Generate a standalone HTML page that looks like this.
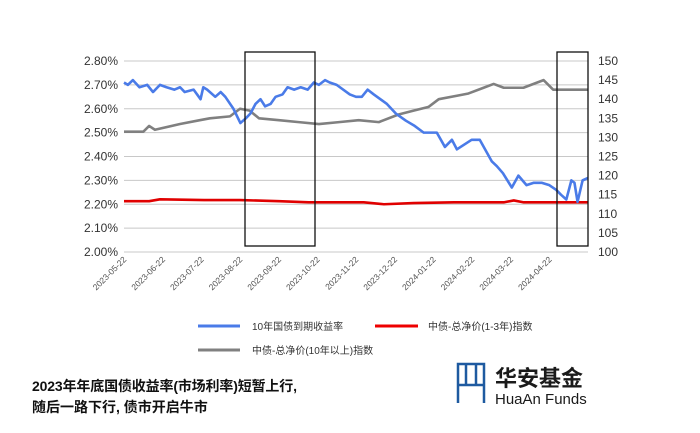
<!DOCTYPE html>
<html><head><meta charset="utf-8"><style>
body{margin:0;background:#fff;width:700px;height:433px;overflow:hidden;font-family:"Liberation Sans","Noto Sans CJK SC",sans-serif}
svg{position:absolute;left:0;top:0}
</style></head><body>
<svg width="700" height="433" xmlns="http://www.w3.org/2000/svg">
<g id="grid"></g>
<g id="yl" font-size="12" fill="#333" text-anchor="end"></g>
<g id="yr" font-size="12" fill="#333"></g>
<g id="xl" font-size="8.5" fill="#555"></g>
<g id="series"></g>
<rect x="245" y="52" width="70" height="194" fill="none" stroke="#111" stroke-width="1.3"/>
<rect x="557" y="52" width="31" height="194" fill="none" stroke="#111" stroke-width="1.3"/>
<g font-size="10" fill="#333">
<line x1="198" y1="326" x2="240" y2="326" stroke="#4a7be8" stroke-width="3"/>
<text x="252" y="330">10年国债到期收益率</text>
<line x1="375" y1="326" x2="418" y2="326" stroke="#e00" stroke-width="3"/>
<text x="428" y="330">中债-总净价(1-3年)指数</text>
<line x1="198" y1="350" x2="240" y2="350" stroke="#808080" stroke-width="3"/>
<text x="252" y="354">中债-总净价(10年以上)指数</text>
</g>
<g font-size="14" font-weight="bold" fill="#111">
<text x="32" y="391" textLength="265">2023年年底国债收益率(市场利率)短暂上行,</text>
<text x="32" y="412">随后一路下行, 债市开启牛市</text>
</g>
<g>
<g fill="none" stroke="#1e5aa0" stroke-width="2.5">
<path d="M458 403 V364 H484 V403 M458 385 H484 M466 364 V385 M476 364 V385"/>
</g>
<text x="495" y="386" font-size="22" font-weight="bold" fill="#1a1a1a">华安基金</text>
<text x="495" y="404" font-size="15" fill="#1a1a1a">HuaAn Funds</text>
</g>
</svg>
<script>
const xTicks=["2023-05-22","2023-06-22","2023-07-22","2023-08-22","2023-09-22","2023-10-22","2023-11-22","2023-12-22","2024-01-22","2024-02-22","2024-03-22","2024-04-22"];
const leftTicks=[2.0,2.1,2.2,2.3,2.4,2.5,2.6,2.7,2.8];
const rightTicks=[100,105,110,115,120,125,130,135,140,145,150];
// months since 2023-05-22
const yieldM=[0,0.1,0.23,0.4,0.6,0.75,0.93,1.1,1.3,1.45,1.57,1.8,1.98,2.05,2.15,2.36,2.5,2.62,2.83,3.01,3.15,3.27,3.4,3.53,3.65,3.79,3.92,4.1,4.23,4.4,4.57,4.75,4.91,5.04,5.2,5.32,5.5,5.84,6.0,6.15,6.3,6.46,6.8,7.03,7.29,7.5,7.75,8.09,8.3,8.48,8.61,8.99,9.2,9.51,9.64,9.8,10.03,10.2,10.41,10.6,10.8,11.0,11.18,11.3,11.44,11.57,11.65,11.73,11.86,12.0];
const yieldV=[2.71,2.70,2.72,2.69,2.70,2.67,2.70,2.69,2.68,2.69,2.67,2.68,2.64,2.69,2.68,2.65,2.67,2.65,2.60,2.54,2.56,2.58,2.62,2.64,2.61,2.62,2.65,2.66,2.69,2.68,2.69,2.68,2.71,2.70,2.72,2.71,2.70,2.66,2.65,2.65,2.68,2.66,2.62,2.58,2.55,2.53,2.50,2.50,2.44,2.47,2.43,2.47,2.47,2.38,2.36,2.33,2.27,2.32,2.28,2.29,2.29,2.28,2.26,2.24,2.22,2.30,2.29,2.21,2.30,2.31];
const longM=[0,0.5,0.65,0.8,1.45,1.96,2.22,2.74,3.0,3.25,3.49,4.01,4.52,5.04,5.56,6.07,6.59,7.1,7.49,7.88,8.14,8.66,8.91,9.3,9.56,9.82,10.33,10.85,11.1,11.62,12.0];
const longV=[131.5,131.5,133,132,133.5,134.5,135,135.5,137.5,137,135,134.5,134,133.5,134,134.5,134,136,137,138,140,141,141.5,143,144,143,143,145,142.5,142.5,142.5];
const shortM=[0,0.65,0.93,2.07,3.0,4.01,4.78,6.2,6.72,7.49,8.53,9.82,10.08,10.34,11.0,12.0];
const shortV=[113.3,113.3,113.8,113.6,113.6,113.3,113,113,112.5,112.8,113,113,113.5,113,113,113];
const X0=124,X1=588,YT=61,YB=252;
const x=m=>X0+m*(X1-X0)/12;
const yL=v=>YB-(v-2.0)/0.8*(YB-YT);
const yR=v=>YB-(v-100)/50*(YB-YT);
const NS="http://www.w3.org/2000/svg";
function mk(tag,parent,attrs){const e=document.createElementNS(NS,tag);for(const k in attrs)e.setAttribute(k,attrs[k]);document.getElementById(parent).appendChild(e);return e;}
leftTicks.forEach(v=>{
 const l=mk('line','grid',{x1:X0,x2:X1,y1:yL(v),y2:yL(v),stroke:'#c8c8c8','stroke-width':1});
 
 
 const t=mk('text','yl',{x:X0-6,y:yL(v)+4});
 t.textContent=v.toFixed(2)+'%';
 
 
});
rightTicks.forEach(v=>{
 const t=mk('text','yr',{x:X1+10,y:yR(v)+4});
 t.textContent=v;
 
 
});
xTicks.forEach((d,i)=>{
 const px=x(i);
 const t=mk('text','xl',{x:px+3,y:YB+8,'text-anchor':'end',transform:`rotate(-45 ${px+3} ${YB+8})`});
 t.textContent=d;
 
 
});
function line(ms,vs,fy,col,name){
 const p=mk('polyline','series',{points:ms.map((m,i)=>x(m)+','+fy(vs[i])).join(' '),fill:'none',stroke:col,'stroke-width':2.6,'stroke-linejoin':'round'});
 
 
}
line(shortM,shortV,yR,'#e00000','series-short-index');
line(longM,longV,yR,'#808080','series-long-index');
line(yieldM,yieldV,yL,'#4a7be8','series-10y-yield');
</script>
</body></html>
